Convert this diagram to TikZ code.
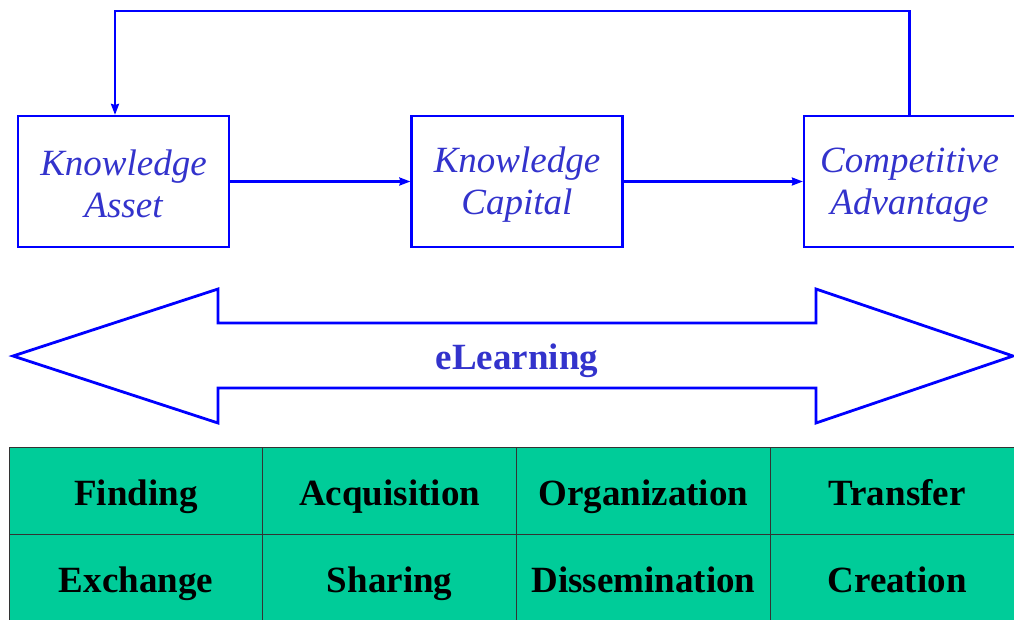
\documentclass[tikz,border=0pt]{standalone}
\usepackage{fontspec}
\setmainfont{Liberation Serif}
\usetikzlibrary{arrows.meta}
\definecolor{lineblue}{HTML}{0000FF}
\definecolor{textblue}{HTML}{3333CC}
\definecolor{cellgreen}{HTML}{00CC99}
\newcommand{\twolines}[2]{\rule{0pt}{32pt}#1\\#2\rule[-3pt]{0pt}{3pt}}
\begin{document}
\begin{tikzpicture}[x=1pt,y=-1pt,>={Stealth[length=11pt,width=8pt,inset=1pt]}]
  \def\bw{211}
  \def\bh{131}

\tikzstyle{stage}=[draw=lineblue,line width=2.2pt,minimum width=\bw pt,minimum height=\bh pt,
  inner sep=0pt,align=center,text=textblue,font=\fontsize{37}{42}\selectfont\itshape]
\tikzstyle{flow}=[draw=lineblue]
\tikzstyle{cell}=[draw=black!80,fill=cellgreen,line width=0.9pt,minimum width=254pt,
  minimum height=87pt,inner sep=0pt,text height=29pt,text depth=0pt,
  font=\fontsize{37}{42}\selectfont\bfseries]
\useasboundingbox (0,0) rectangle (1014,619);

% stages
\node[stage] (KA) at (123.5,181.5) {\twolines{Knowledge}{Asset}};
\node[stage] (KC) at (517,181.5) {\twolines{Knowledge}{Capital}};
\node[stage] (CA) at (909.5,181.5) {\twolines{Competitive}{Advantage}};
\draw[flow,line width=2.2pt,->] (KA) -- (KC);
\draw[flow,line width=2.2pt,->] (KC) -- (CA);
% feedback
\coordinate (FR) at (909.5,11);
\coordinate (FL) at (115,11);
\draw[flow,line width=2.2pt,->] (CA.north) -- (FR) -- (FL) -- (FL |- KA.north);

% eLearning double arrow
\draw[lineblue,line width=2.8pt,line join=miter] (13,356) -- (218,289) -- (218,323) -- (816,323)
  -- (816,289) -- (1013,356) -- (816,423) -- (816,388) -- (218,388) -- (218,423) -- cycle;
\node[text=textblue,anchor=base,font=\fontsize{37}{42}\selectfont\bfseries] (EL) at (517,369) {eLearning};

% activities
\foreach \t [count=\i] in {Finding,Acquisition,Organization,Transfer}
  \node[cell] (T\i) at (136+253.7*\i-253.7,490.5) {\t};
\foreach \t [count=\i] in {Exchange,Sharing,Dissemination,Creation}
  \node[cell] (B\i) at (136+253.7*\i-253.7,577.5) {\t};
\end{tikzpicture}
\end{document}
